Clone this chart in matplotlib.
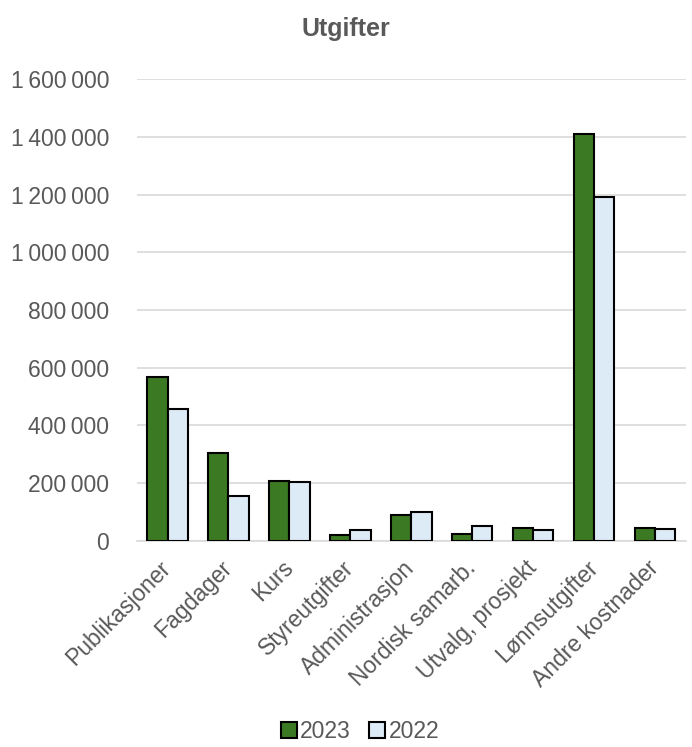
import matplotlib.pyplot as plt
import numpy as np
from matplotlib.ticker import FuncFormatter

plt.rcParams['font.family'] = ['Liberation Sans', 'DejaVu Sans']

# Data
categories = ['Publikasjoner', 'Fagdager', 'Kurs', 'Styreutgifter', 'Administrasjon',
              'Nordisk samarb.', 'Utvalg, prosjekt', 'Lønnsutgifter', 'Andre kostnader']
values_2023 = [568000, 305000, 208000, 21000, 90000, 24000, 45000, 1410000, 45000]
values_2022 = [457000, 156000, 204000, 38000, 100000, 52000, 38000, 1191000, 42000]

grey = '#595959'
fs = 16.5
fig = plt.figure(figsize=(6.92, 7.47), dpi=100)
ax = fig.add_axes([0.198, 0.276, 0.793, 0.618])

x = np.arange(len(categories))
w = 0.33
ax.bar(x - w/2, values_2023, w, color='#3B7A23', edgecolor='black', linewidth=1.5,
       label='2023', zorder=3)
ax.bar(x + w/2, values_2022, w, color='#DDEBF7', edgecolor='black', linewidth=1.5,
       label='2022', zorder=3)

ax.set_xlim(-0.5, len(categories) - 0.5)
ax.set_ylim(0, 1600000)
ax.set_yticks(np.arange(0, 1600001, 200000))
ax.yaxis.set_major_formatter(FuncFormatter(lambda v, p: f'{int(v):,}'.replace(',', '\u2009')))
ax.grid(axis='y', color='#D9D9D9', linewidth=1.2, zorder=0)
for s in ['top', 'right', 'left']:
    ax.spines[s].set_visible(False)
ax.spines['bottom'].set_color('#D9D9D9')
ax.spines['bottom'].set_linewidth(1.2)
ax.tick_params(axis='both', length=0, labelsize=fs, colors=grey)
ax.tick_params(axis='y', pad=20)
ax.tick_params(axis='x', pad=17)

ax.set_xticks(x)
ax.set_xticklabels(categories, rotation=45, ha='right', va='center', rotation_mode='anchor')

fig.suptitle('Utgifter', y=0.977, fontsize=18, fontweight='bold', color=grey)

fig.legend(loc='lower center', bbox_to_anchor=(0.52, -0.022), ncol=2, frameon=False,
           fontsize=fs, labelcolor=grey, handlelength=0.7, handleheight=0.7,
           handletextpad=0.15, columnspacing=0.8)

fig.savefig('out.png', dpi=100)
